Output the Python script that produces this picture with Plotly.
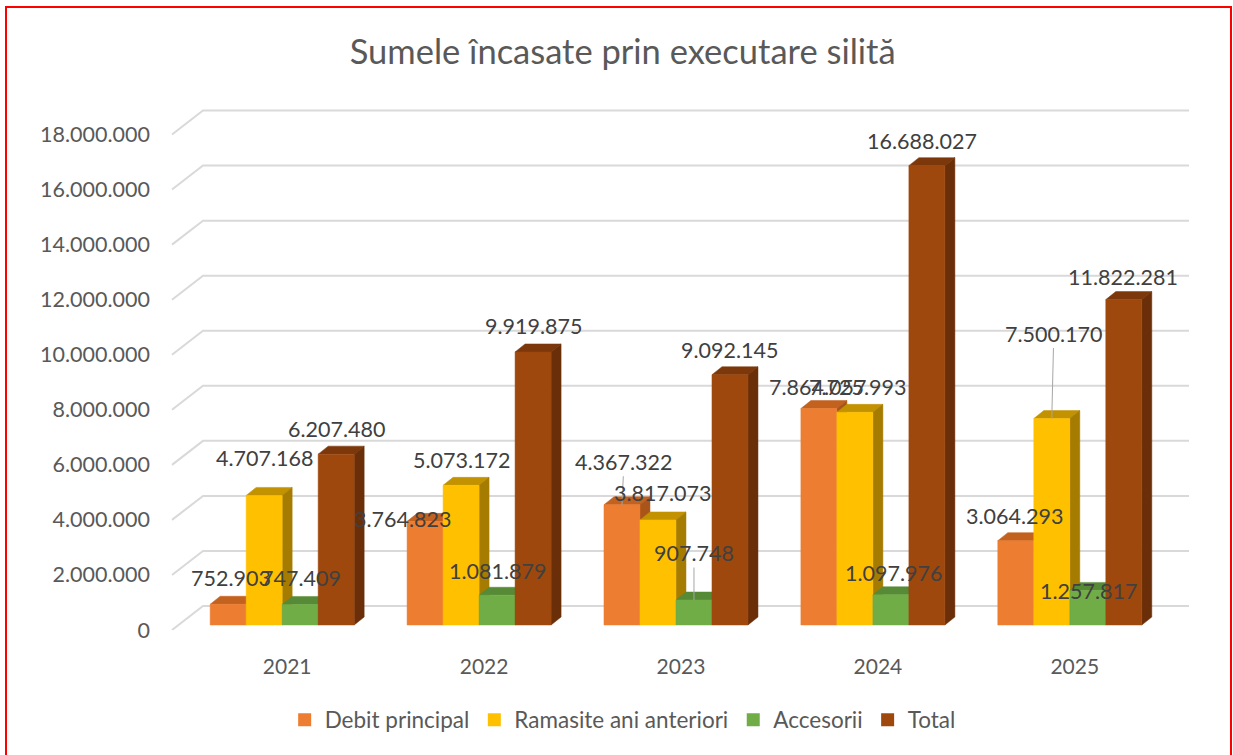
import plotly.graph_objects as go

# ---------------- data ----------------
years = ["2021", "2022", "2023", "2024", "2025"]
debit_principal = [752903, 3764823, 4367322, 7864057, 3064293]
ramasite_ani_anteriori = [4707168, 5073172, 3817073, 7725993, 7500170]
accesorii = [747409, 1081879, 907748, 1097976, 1257817]
total = [6207480, 9919875, 9092145, 16688027, 11822281]
series_names = ["Debit principal", "Ramasite ani anteriori", "Accesorii", "Total"]
y_ticks = list(range(0, 18_000_001, 2_000_000))
title = "Sumele încasate prin executare silită"

series_values = [debit_principal, ramasite_ani_anteriori, accesorii, total]

# ---------------- style ----------------
FRONT = ["#ED7D31", "#FFC000", "#70AD47", "#9E480E"]
TOP = ["#C3611F", "#C29200", "#568A36", "#7C380B"]
SIDE = ["#A95419", "#A57C00", "#497A2D", "#6A2F08"]
FONT = "Lato"
TXT = "#595959"
LBL = "#404040"

W, H = 1233, 755
ML, MR, MT, MB = 171, 44, 107, 125
XR = (-0.59, 4.58)
YR = (0, 19_000_000)
plot_w = W - ML - MR
plot_h = H - MT - MB
ppx = plot_w / (XR[1] - XR[0])  # px per x unit
ppy = plot_h / (YR[1] - YR[0])  # px per y unit

BAR_W = 36 / ppx
DX = 10 / ppx
DY = 8 / ppy
FLOOR = 5 / ppy
OFFS = [o / ppx for o in (-77, -41, -5, 31)]
WALL_DY = 24 / ppy
WALL_X0 = XR[0] + 1 / ppx
WALL_X1 = XR[0] + 32 / ppx

# label offsets (px): (dx, dy above front top, leader line)
LABEL_OFFS = [
    [(3, 26, False), (-23, 2, False), (2, 43, True), (-1, 22, False), (-1, 25, False)],
    [(0, 37, False), (0, 25, False), (5, 27, False), (3, 25, False), (2, 85, True)],
    [(1, 26, False), (0, 24, False), (0, 47, True), (3, 22, False), (1, -1, False)],
    [(0, 25, False), (0, 26, False), (0, 25, False), (-5, 25, False), (-1, 23, False)],
]

fig = go.Figure()

# back-wall gridlines (3D look)
gx, gy = [], []
for g in y_ticks:
    gx += [WALL_X0, WALL_X1, XR[1], None]
    gy += [g, g + WALL_DY, g + WALL_DY, None]
fig.add_trace(go.Scatter(x=gx, y=gy, mode="lines", line=dict(color="#D9D9D9", width=2),
                         hoverinfo="skip", showlegend=False))

annotations = []
for xi in range(len(years)):
    for si, vals in enumerate(series_values):
        v = vals[xi]
        L = xi + OFFS[si]
        R = L + BAR_W
        b = FLOOR
        t = v + FLOOR
        # top face
        fig.add_trace(go.Scatter(
            x=[L, R, R + DX, L + DX, L], y=[t, t, t + DY, t + DY, t],
            fill="toself", fillcolor=TOP[si], mode="lines",
            line=dict(color=TOP[si], width=0.5), hoverinfo="skip", showlegend=False))
        # side face
        fig.add_trace(go.Scatter(
            x=[R, R + DX, R + DX, R, R], y=[b, b + DY, t + DY, t, b],
            fill="toself", fillcolor=SIDE[si], mode="lines",
            line=dict(color=SIDE[si], width=0.5), hoverinfo="skip", showlegend=False))
        # front face
        fig.add_trace(go.Scatter(
            x=[L, R, R, L, L], y=[b, b, t, t, b],
            fill="toself", fillcolor=FRONT[si], mode="lines",
            line=dict(color=FRONT[si], width=0.5), hoverinfo="skip", showlegend=False))

        dx, dy, leader = LABEL_OFFS[si][xi]
        text = f"{v:,}".replace(",", ".")
        cx = (L + R) / 2
        if leader:
            annotations.append(dict(
                x=cx, y=t, xref="x", yref="y", text=text, showarrow=True,
                ax=dx, ay=-dy, arrowhead=0, arrowwidth=1, arrowcolor="#A6A6A6",
                standoff=0, font=dict(family=FONT, size=21.5, color=LBL)))
        else:
            annotations.append(dict(
                x=cx, y=t, xref="x", yref="y", text=text, showarrow=False,
                xshift=dx, yshift=dy, yanchor="middle", xanchor="center",
                font=dict(family=FONT, size=21.5, color=LBL)))

# legend entries
for si, name in enumerate(series_names):
    fig.add_trace(go.Scatter(x=[None], y=[None], mode="markers", name=name,
                             marker=dict(symbol="square", size=13, color=FRONT[si])))

# red border
def px2paper_x(px):
    return (px - ML) / plot_w

def px2paper_y(py):
    return (H - MB - py) / plot_h

shapes = [dict(type="rect", xref="paper", yref="paper",
               x0=px2paper_x(6), x1=px2paper_x(1231),
               y0=px2paper_y(770), y1=px2paper_y(7),
               line=dict(color="#FF0000", width=2), fillcolor="rgba(0,0,0,0)", layer="above")]

fig.update_layout(
    width=W, height=H,
    margin=dict(l=ML, r=MR, t=MT, b=MB, autoexpand=False),
    paper_bgcolor="white", plot_bgcolor="white",
    title=dict(text=title, x=0.505, xref="container", xanchor="center",
               y=1 - 52 / H, yref="container", yanchor="middle",
               font=dict(family=FONT, size=34.5, color=TXT)),
    xaxis=dict(range=list(XR), tickvals=list(range(len(years))), ticktext=years,
               showgrid=False, zeroline=False, showline=False, ticks="",
               ticklabelstandoff=22,
               tickfont=dict(family=FONT, size=21, color=TXT), fixedrange=True),
    yaxis=dict(range=list(YR), tickvals=y_ticks,
               ticktext=[f"{v:,}".replace(",", ".") for v in y_ticks],
               showgrid=False, zeroline=False, showline=False, ticks="",
               ticklabelstandoff=20,
               tickfont=dict(family=FONT, size=21.5, color=TXT), fixedrange=True),
    legend=dict(orientation="h", x=0.505, xref="container", xanchor="center",
                y=1 - 720 / H, yref="container", yanchor="middle",
                font=dict(family=FONT, size=22.5, color=TXT), itemwidth=30),
    annotations=annotations,
    shapes=shapes,
    showlegend=True,
)

fig.write_html("out.html", config={"displayModeBar": False},
               post_script="document.body.style.margin='0px';document.body.style.overflow='hidden';")
